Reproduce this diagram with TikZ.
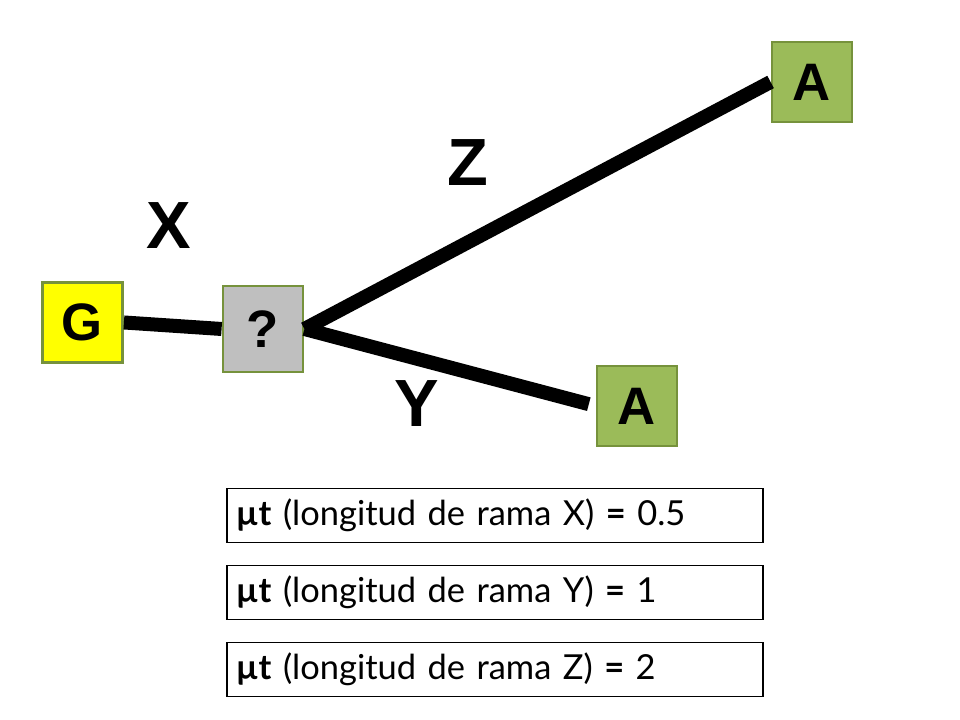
\documentclass[tikz,border=0pt]{standalone}
\usepackage{fontspec}
\setmainfont{Lato}
\newfontfamily\labelfont{Liberation Sans}
\usetikzlibrary{positioning}
\definecolor{olive}{RGB}{118,146,60}
\definecolor{leafgreen}{RGB}{155,187,89}
\definecolor{rootyellow}{RGB}{255,255,0}
\definecolor{ancgray}{RGB}{191,191,191}

\begin{document}
\begin{tikzpicture}[
    taxon/.style={
      rectangle, draw=olive, line width=0.8pt,
      minimum width=0.8cm, minimum height=0.8cm, inner sep=0pt,
      font=\labelfont\bfseries\fontsize{15}{15}\selectfont
    },
    branch/.style={line width=0.14cm, black},
    brlabel/.style={font=\labelfont\bfseries\fontsize{19}{19}\selectfont},
    infobox/.style={
      rectangle, draw=black, line width=0.5pt,
      text width=5.18cm, inner xsep=0.09cm, inner ysep=0pt,
      minimum height=0.54cm, outer sep=0pt,
      align=left, font=\fontsize{9.8}{12}\selectfont
    },
    node distance=0.23cm
  ]
  \useasboundingbox (0,0) rectangle (9.6,7.2);

  \node[taxon, fill=rootyellow]                          (g)    at (0.825,3.975) {G};
  \node[taxon, fill=ancgray, minimum height=0.86cm]      (anc)  at (2.63,3.91)  {?};
  \node[taxon, fill=leafgreen]                           (atop) at (8.12,6.38)  {A};
  \node[taxon, fill=leafgreen]                           (abot) at (6.37,3.14)  {A};

  \draw[branch] (g.east) -- (anc.west);
  \draw[branch] (anc.east) -- (atop.west);
  \draw[branch, shorten >=0.07cm] (anc.east) -- (abot.west);

  \node[brlabel] (lx) at (1.69,4.94) {X};
  \node[brlabel] (lz) at (4.68,5.57) {Z};
  \node[brlabel] (ly) at (4.17,3.16) {Y};

  \node[infobox]                 (bx) at (4.95,2.045)
    {\textbf{µt} (longitud de rama X) \textbf{=} 0.5};
  \node[infobox, below=of bx]    (by)
    {\textbf{µt} (longitud de rama Y) \textbf{=} 1};
  \node[infobox, below=of by]    (bz)
    {\textbf{µt} (longitud de rama Z) \textbf{=} 2};
\end{tikzpicture}
\end{document}
